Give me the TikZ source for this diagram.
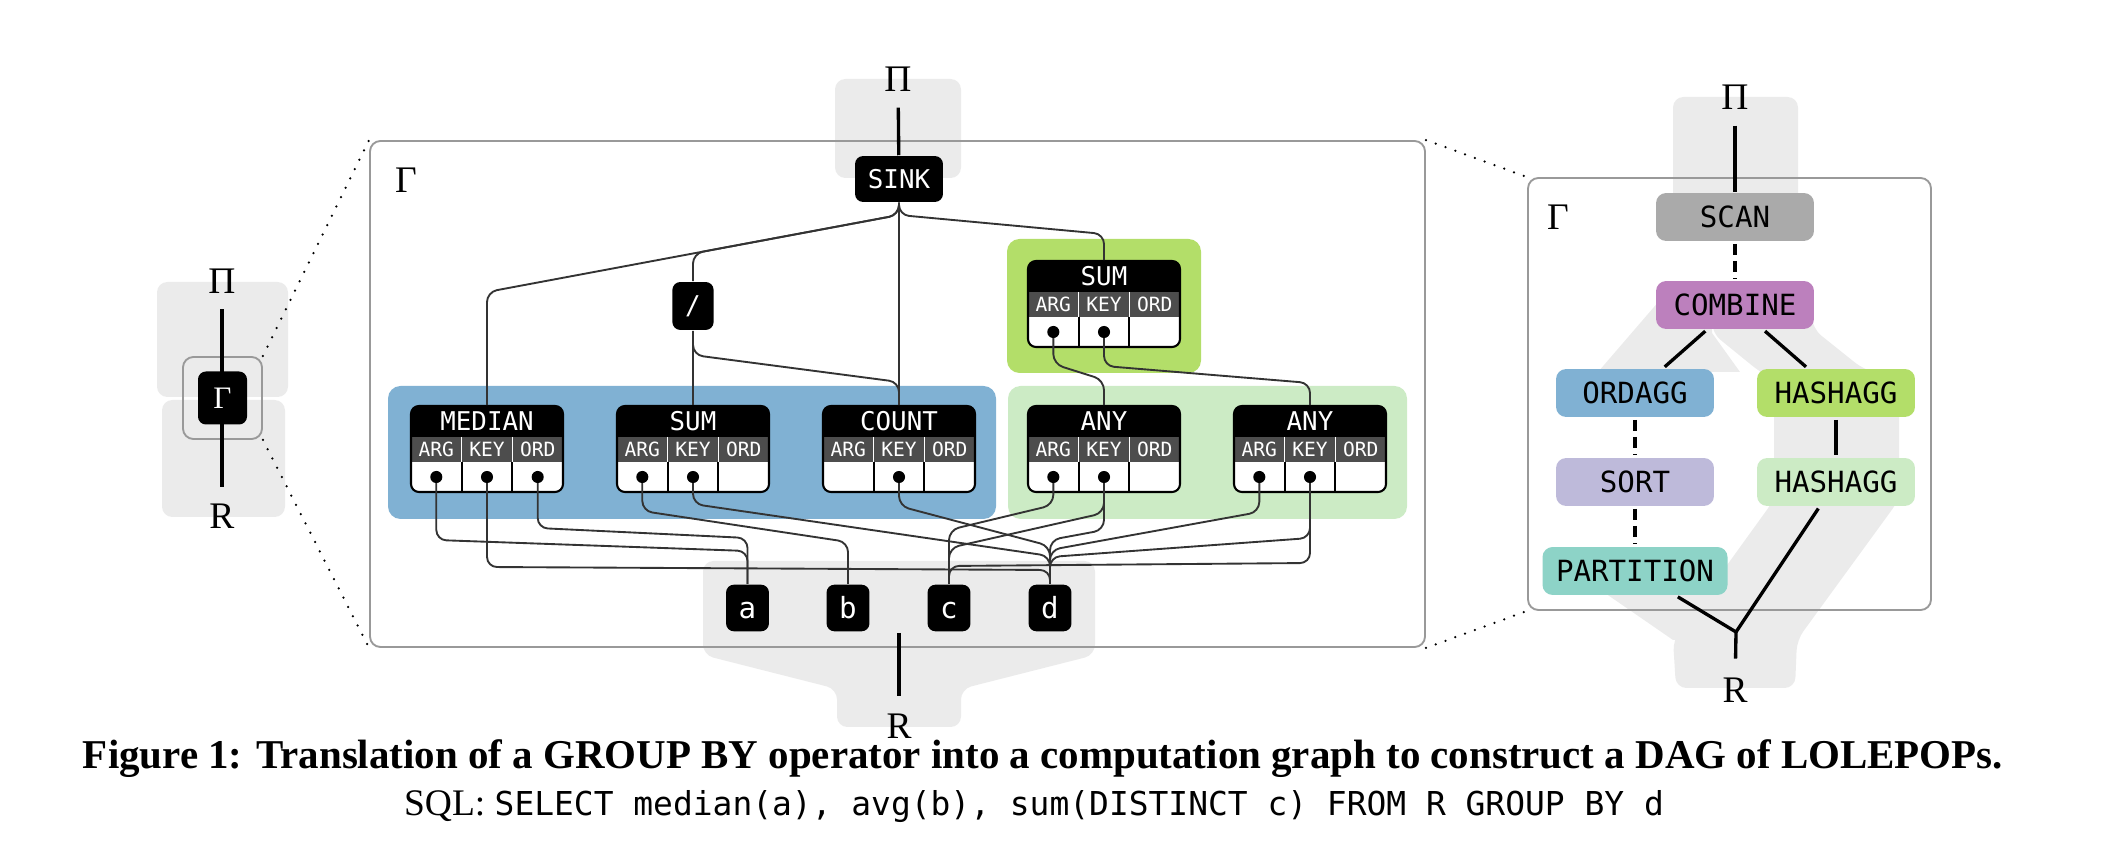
\documentclass[tikz,border=0pt]{standalone}
\usepackage{fontspec}
\setmainfont{Liberation Serif}
\newfontfamily\monof{DejaVu Sans Mono}
\usetikzlibrary{calc}
\definecolor{bgray}{HTML}{EBEBEB}
\definecolor{setblue}{HTML}{80B1D3}
\definecolor{setgreen}{HTML}{B3DE69}
\definecolor{setlgreen}{HTML}{CCEBC5}
\definecolor{setpurple}{HTML}{BC80BD}
\definecolor{setlav}{HTML}{BEBADA}
\definecolor{setteal}{HTML}{8DD3C7}
\definecolor{scangray}{HTML}{AAAAAA}
\definecolor{hdrgray}{HTML}{4D4D4D}
\definecolor{wirecol}{HTML}{333333}
\definecolor{framegray}{HTML}{999999}
\newcommand\labfont{\monof\fontsize{6.2}{7}\selectfont}
\newcommand\hdrfont{\monof\fontsize{4.7}{5}\selectfont}
\newcommand\lolfont{\monof\fontsize{7}{8}\selectfont}
\newcommand\varfont{\monof\fontsize{7}{8}\selectfont}
\newcommand\opblock[4]{%
  \node[opbox] (#1) at (#2,#3+43) {};
  \begin{scope}
    \clip[rounded corners=1.9pt] (#2-76,#3) rectangle (#2+76,#3+86);
    \fill[black] (#2-76,#3) rectangle (#2+76,#3+31);
    \fill[hdrgray] (#2-76,#3+31) rectangle (#2+76,#3+56);
    \fill[white] (#2-76,#3+56) rectangle (#2+76,#3+86);
  \end{scope}
  \draw[white,line width=0.35pt] (#2-25.3,#3+31) -- (#2-25.3,#3+56) (#2+25.3,#3+31) -- (#2+25.3,#3+56);
  \draw[line width=0.4pt] (#2-25.3,#3+56) -- (#2-25.3,#3+86) (#2+25.3,#3+56) -- (#2+25.3,#3+86);
  \draw[line width=0.5pt,rounded corners=1.9pt] (#2-76,#3) rectangle (#2+76,#3+86);
  \node[titletext] (#1-title) at (#2,#3+15.5) {#4};
  \node[hdrtext] (#1-h1) at (#2-50.7,#3+43.5) {ARG};
  \node[hdrtext] (#1-h2) at (#2,#3+43.5) {KEY};
  \node[hdrtext] (#1-h3) at (#2+50.7,#3+43.5) {ORD};
  \coordinate (#1-arg) at (#2-50.7,#3+71);
  \coordinate (#1-key) at (#2,#3+71);
  \coordinate (#1-ord) at (#2+50.7,#3+71);
}
\newcommand\route[4]{%
  \path (0,#2) coordinate (ra) (0,#3) coordinate (rb);
  \draw[wire] (#1) -- (#1 |- ra) -- (#4 |- rb) -- (#4);
}
\newcommand\dotc[1]{\fill (#1) circle (1.45pt);}
\begin{document}
\begin{tikzpicture}[x=0.24pt,y=-0.24pt,
  every node/.style={inner sep=0pt},
  region/.style={rounded corners=3pt},
  blk/.style={fill=black, rounded corners=1.9pt, text=white},
  opbox/.style={minimum width=36.48pt, minimum height=20.64pt},
  titletext/.style={text=white, font=\labfont},
  hdrtext/.style={text=white, font=\hdrfont},
  wire/.style={draw=wirecol, line width=0.45pt, rounded corners=2.4pt},
  thickline/.style={line width=0.8pt},
  dashline/.style={line width=0.8pt, dash pattern=on 2.6pt off 1.5pt},
  frame/.style={draw=framegray, line width=0.45pt, rounded corners=2.5pt},
  dotline/.style={line width=0.6pt, line cap=round, dash pattern=on 0pt off 2.5pt},
  lolepop/.style={rounded corners=2.4pt, minimum width=37.9pt, minimum height=11.5pt, font=\lolfont},
  varnode/.style={blk, minimum width=10.3pt, minimum height=11.2pt, font=\varfont, text height=5.2pt, text depth=0pt},
  greek/.style={font=\fontsize{9}{10}\selectfont},
]
\useasboundingbox (0,0) rectangle (2108,850);

% ---------- gray pipeline backgrounds ----------
\fill[bgray, rounded corners=2.5pt] (157,282) rectangle (288,397);
\fill[bgray, rounded corners=2.5pt] (162,400) rectangle (285,517);
\fill[bgray, rounded corners=2.5pt] (835,79) rectangle (961,178);
\fill[bgray, rounded corners=2.5pt] (703,561) -- (1095,561) -- (1095,655) -- (961,689) -- (961,727) -- (837,727) -- (837,689) -- (703,655) -- cycle;
\fill[bgray, rounded corners=2.5pt] (1673,97) rectangle (1798,217);
% left upper band (COMBINE -> ORDAGG)
\fill[bgray] (1660,300) -- (1712,300) -- (1712,333) -- (1740,372) -- (1598,372) -- cycle;
% left lower band (PARTITION -> R)
\fill[bgray] (1573,571) -- (1697,571) -- (1797,640) -- (1673,640) -- cycle;
% right pipeline (COMBINE -> HASHAGG -> HASHAGG -> R)
\fill[bgray, rounded corners=2.5pt] (1712,300) -- (1810,300) -- (1813,329) -- (1863,369) -- (1899,380) -- (1899,500) -- (1797,640) -- (1795,688) -- (1676,688) -- (1673,640) -- (1774,500) -- (1774,380) -- (1760,372) -- (1712,333) -- cycle;

% ---------- frames ----------
\node[frame, minimum width=18.96pt, minimum height=19.68pt] (lframe) at (222.5,398) {};
\node[frame, minimum width=253.2pt, minimum height=121.44pt] (gbox) at (897.5,394) {};
\node[frame, minimum width=96.72pt, minimum height=103.68pt] (rframe) at (1729.5,394) {};
\draw[dotline] (lframe.north east) -- (gbox.north west);
\draw[dotline] (lframe.south east) -- (gbox.south west);
\draw[dotline] (gbox.north east) -- (rframe.north west);
\draw[dotline] (gbox.south east) -- (rframe.south west);

% ---------- left overview ----------
\node[greek] (lpi) at (222,281) {Π};
\node[greek] (lr) at (222,516.5) {R};
\draw[thickline, shorten <=3.6pt, shorten >=4pt] (lpi) -- (lr);
\node[blk, minimum width=11.76pt, minimum height=12.72pt, font=\fontsize{7.5}{8}\selectfont] (lgamma) at (222.5,398) {Γ};

% ---------- middle computation graph ----------
\node[greek] (ggamma) at (406,180) {Γ};
\fill[setblue, region] (388,386) rectangle (996,519);
\fill[setlgreen, region] (1008,386) rectangle (1407,519);
\fill[setgreen, region] (1007,239) rectangle (1201,373);

\opblock{median}{487}{406}{MEDIAN}
\opblock{bsum}{693}{406}{SUM}
\opblock{count}{899}{406}{COUNT}
\opblock{anyA}{1104}{406}{ANY}
\opblock{anyB}{1310}{406}{ANY}
\opblock{gsum}{1104}{261}{SUM}

\node[blk, minimum width=21.1pt, minimum height=11pt, font=\labfont] (sink) at (899,179) {SINK};
\node[blk, minimum width=9.9pt, minimum height=11.5pt, font=\labfont] (slash) at (693,306) {/};
\node[varnode] (va) at (747.5,608) {a};
\node[varnode] (vb) at (848,608) {b};
\node[varnode] (vc) at (949,608) {c};
\node[varnode] (vd) at (1050,608) {d};

\node[greek] (mpi) at (898,79.5) {Π};
\node[greek] (mr) at (899,726) {R};
\coordinate (mrtop) at (899,633);
\draw[thickline, shorten <=3.6pt] (mpi) -- (sink);
\draw[thickline, shorten >=4pt] (mrtop) -- (mr);

% wires, top part
\route{sink.south}{215}{292}{median.north}
\route{slash.north}{253.5}{215}{sink.south}
\draw[wire] (sink.south) -- (count.north);
\route{sink.south}{215}{234}{gsum.north}
\draw[wire] (slash.south) -- (bsum.north);
\route{slash.south}{355}{382}{count.north}
\route{gsum-arg}{364}{380}{anyA.north}
\route{gsum-key}{366}{383}{anyB.north}

% wires, bottom part
\route{median-arg}{540}{551}{va.north}
\route{median-ord}{528}{538}{va.north}
\route{median-key}{567}{570}{vd.north}
\route{bsum-arg}{511}{542}{vb.north}
\route{bsum-key}{504}{556}{vd.north}
\route{count-key}{506}{546}{vd.north}
\route{anyA-arg}{505}{530}{vc.north}
\route{anyA-key}{513}{548}{vc.north}
\route{anyA-key}{530}{540}{vd.north}
\route{anyB-arg}{512}{550}{vd.north}
\route{anyB-key}{538}{557}{vd.north}
\route{anyB-key}{563}{566}{vc.north}

\dotc{median-arg}\dotc{median-key}\dotc{median-ord}
\dotc{bsum-arg}\dotc{bsum-key}
\dotc{count-key}
\dotc{anyA-arg}\dotc{anyA-key}
\dotc{anyB-arg}\dotc{anyB-key}
\dotc{gsum-arg}\dotc{gsum-key}

% ---------- right LOLEPOP DAG ----------
\node[greek] (rgamma) at (1558,217.5) {Γ};
\node[greek] (rpi) at (1735,97.5) {Π};
\node[greek] (rr) at (1735,690.5) {R};
\node[lolepop, fill=scangray] (scan) at (1735,217) {SCAN};
\node[lolepop, fill=setpurple] (combine) at (1735,305) {COMBINE};
\node[lolepop, fill=setblue] (ordagg) at (1635,393) {ORDAGG};
\node[lolepop, fill=setgreen] (hashagg) at (1836,393) {HASHAGG};
\node[lolepop, fill=setlav] (sort) at (1635,482) {SORT};
\node[lolepop, fill=setlgreen] (hashaggb) at (1836,482) {HASHAGG};
\node[lolepop, fill=setteal, minimum width=44.4pt] (partition) at (1635,571) {PARTITION};
\coordinate (rj) at (1736,632);
\draw[thickline, shorten <=3.6pt] (rpi) -- (scan);
\draw[dashline, shorten <=0.5pt, shorten >=0.5pt] (scan) -- (combine);
\draw[thickline, shorten <=0.5pt, shorten >=0.5pt] (combine) -- (ordagg);
\draw[thickline, shorten <=0.5pt, shorten >=0.5pt] (combine) -- (hashagg);
\draw[dashline, shorten <=0.5pt, shorten >=0.5pt] (ordagg) -- (sort);
\draw[dashline, shorten <=0.5pt, shorten >=0.5pt] (sort) -- (partition);
\draw[thickline, shorten <=0.5pt, shorten >=0.5pt] (hashagg) -- (hashaggb);
\draw[thickline, shorten <=0.5pt] (partition) -- (rj);
\draw[thickline, shorten <=0.5pt] (hashaggb) -- (rj);
\draw[thickline, shorten >=4.5pt] (rj) -- (rr);

% ---------- caption ----------
\node[anchor=base, font=\bfseries\fontsize{9.83}{11}\selectfont] (cap) at (1043,769) {Figure 1: Translation of a GROUP BY operator into a computation graph to construct a DAG of LOLEPOPs.};
\node[anchor=base, font=\fontsize{9}{11}\selectfont] (sql) at (1034,816) {SQL: {\monof\fontsize{7.9}{9}\selectfont SELECT median(a), avg(b), sum(DISTINCT c) FROM R GROUP BY d}};
\end{tikzpicture}
\end{document}
